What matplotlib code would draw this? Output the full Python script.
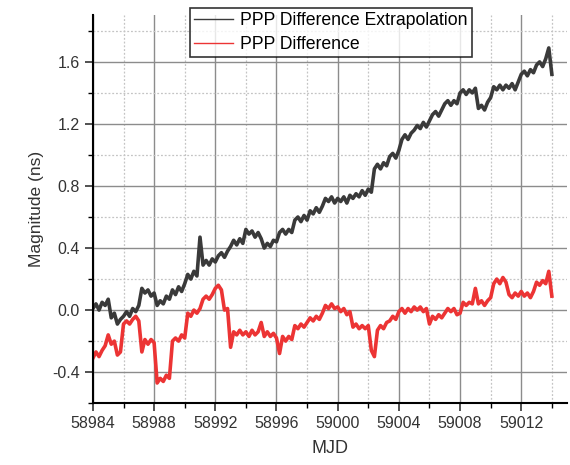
import numpy as np
import matplotlib.pyplot as plt
from matplotlib.ticker import MultipleLocator

plt.rcParams['font.family'] = ['Liberation Sans', 'DejaVu Sans']

# MJD samples, 0.2 day apart, from 58984.0 to 59014.0
mjd = 58984 + np.arange(151) * 0.2

ppp_extrap = [
    0.01, 0.04, 0.00, 0.05, 0.03, 0.07, -0.05, -0.02, -0.09, -0.06,
    -0.04, -0.01, -0.04, 0.01, -0.01, 0.03, 0.14, 0.11, 0.13, 0.09,
    0.11, 0.03, 0.06, 0.04, 0.09, 0.07, 0.13, 0.10, 0.15, 0.12,
    0.17, 0.23, 0.20, 0.25, 0.22, 0.47, 0.29, 0.32, 0.29, 0.33,
    0.31, 0.35, 0.37, 0.34, 0.38, 0.41, 0.45, 0.42, 0.46, 0.43,
    0.52, 0.49, 0.51, 0.47, 0.50, 0.46, 0.40, 0.43, 0.41, 0.45,
    0.44, 0.50, 0.52, 0.49, 0.52, 0.50, 0.58, 0.60, 0.57, 0.61,
    0.58, 0.64, 0.62, 0.66, 0.63, 0.67, 0.72, 0.70, 0.73, 0.69,
    0.72, 0.70, 0.73, 0.69, 0.74, 0.72, 0.75, 0.73, 0.77, 0.74,
    0.78, 0.76, 0.91, 0.94, 0.91, 0.95, 0.93, 0.99, 1.01, 0.98,
    1.03, 1.10, 1.13, 1.10, 1.14, 1.16, 1.19, 1.17, 1.21, 1.18,
    1.22, 1.26, 1.28, 1.25, 1.29, 1.33, 1.35, 1.32, 1.35, 1.33,
    1.40, 1.42, 1.39, 1.42, 1.40, 1.43, 1.30, 1.32, 1.29, 1.34,
    1.37, 1.44, 1.42, 1.45, 1.42, 1.45, 1.43, 1.46, 1.42, 1.47,
    1.52, 1.54, 1.51, 1.55, 1.53, 1.58, 1.60, 1.57, 1.62, 1.69,
    1.52,
]

ppp_diff = [
    -0.31, -0.27, -0.30, -0.26, -0.23, -0.16, -0.22, -0.20, -0.29, -0.27,
    -0.09, -0.07, -0.09, -0.06, -0.04, -0.07, -0.27, -0.19, -0.22, -0.19,
    -0.21, -0.47, -0.44, -0.46, -0.42, -0.44, -0.20, -0.18, -0.20, -0.16,
    -0.18, -0.02, -0.04, 0.00, -0.02, 0.01, 0.07, 0.09, 0.07, 0.10,
    0.14, 0.16, 0.13, 0.00, 0.01, -0.24, -0.14, -0.16, -0.13, -0.16,
    -0.14, -0.17, -0.13, -0.16, -0.14, -0.08, -0.17, -0.14, -0.17, -0.15,
    -0.18, -0.28, -0.17, -0.20, -0.17, -0.19, -0.10, -0.12, -0.09, -0.11,
    -0.08, -0.05, -0.07, -0.04, -0.06, -0.02, 0.03, 0.01, 0.04, 0.01,
    0.02, -0.01, 0.01, -0.03, -0.01, -0.11, -0.09, -0.12, -0.10, -0.12,
    -0.10, -0.26, -0.30, -0.13, -0.10, -0.12, -0.08, -0.07, -0.04, -0.06,
    -0.01, 0.01, -0.02, 0.01, -0.01, 0.02, 0.00, 0.02, -0.01, 0.01,
    -0.09, -0.04, -0.06, -0.03, -0.05, -0.02, 0.01, -0.01, 0.01, -0.03,
    -0.02, 0.05, 0.03, 0.05, 0.04, 0.14, 0.04, 0.06, 0.03, 0.06,
    0.08, 0.17, 0.20, 0.17, 0.21, 0.18, 0.10, 0.08, 0.11, 0.09,
    0.12, 0.09, 0.11, 0.08, 0.12, 0.18, 0.16, 0.19, 0.17, 0.25,
    0.09,
]

fig = plt.figure(figsize=(5.7, 4.65), dpi=100)
ax = fig.add_axes([0.163, 0.133, 0.832, 0.834])

ax.plot(mjd, ppp_extrap, color='#3a3a3a', lw=2.6, label='PPP Difference Extrapolation')
ax.plot(mjd, ppp_diff, color='#ec3434', lw=2.6, label='PPP Difference')

ax.set_xlim(58984, 59015)
ax.set_ylim(-0.6, 1.9)
ax.xaxis.set_major_locator(MultipleLocator(4))
ax.xaxis.set_minor_locator(MultipleLocator(2))
ax.yaxis.set_major_locator(MultipleLocator(0.4))
ax.yaxis.set_minor_locator(MultipleLocator(0.2))
ax.yaxis.set_major_formatter(plt.FuncFormatter(lambda v, p: '%.1f' % v))

ax.grid(True, which='major', color='#8c8c8c', lw=1.0)
ax.grid(True, which='minor', color='#c4c4c4', lw=0.9, ls=(0, (1.5, 1.5)))
ax.set_axisbelow(True)

for side in ['top', 'right']:
    ax.spines[side].set_visible(False)
for side in ['left', 'bottom']:
    ax.spines[side].set_linewidth(1.5)
ax.tick_params(which='major', direction='out', length=6, width=1.2, labelsize=11.5, colors='#333333')
ax.tick_params(which='minor', direction='out', length=3.5, width=1.0)

ax.set_xlabel('MJD', fontsize=13, color='#333333', labelpad=6)
ax.set_ylabel('Magnitude (ns)', fontsize=12.5, color='#333333', labelpad=6)

leg = fig.legend(loc='upper left', bbox_to_anchor=(0.333, 0.983), fontsize=12.7,
                 frameon=True, fancybox=False, handlelength=2.2, handletextpad=0.4,
                 borderpad=0.25, labelspacing=0.38, borderaxespad=0)
leg.get_frame().set_edgecolor('black')
leg.get_frame().set_linewidth(1.2)
for line in leg.get_lines():
    line.set_linewidth(1.0)

fig.savefig('out.png', dpi=100)
